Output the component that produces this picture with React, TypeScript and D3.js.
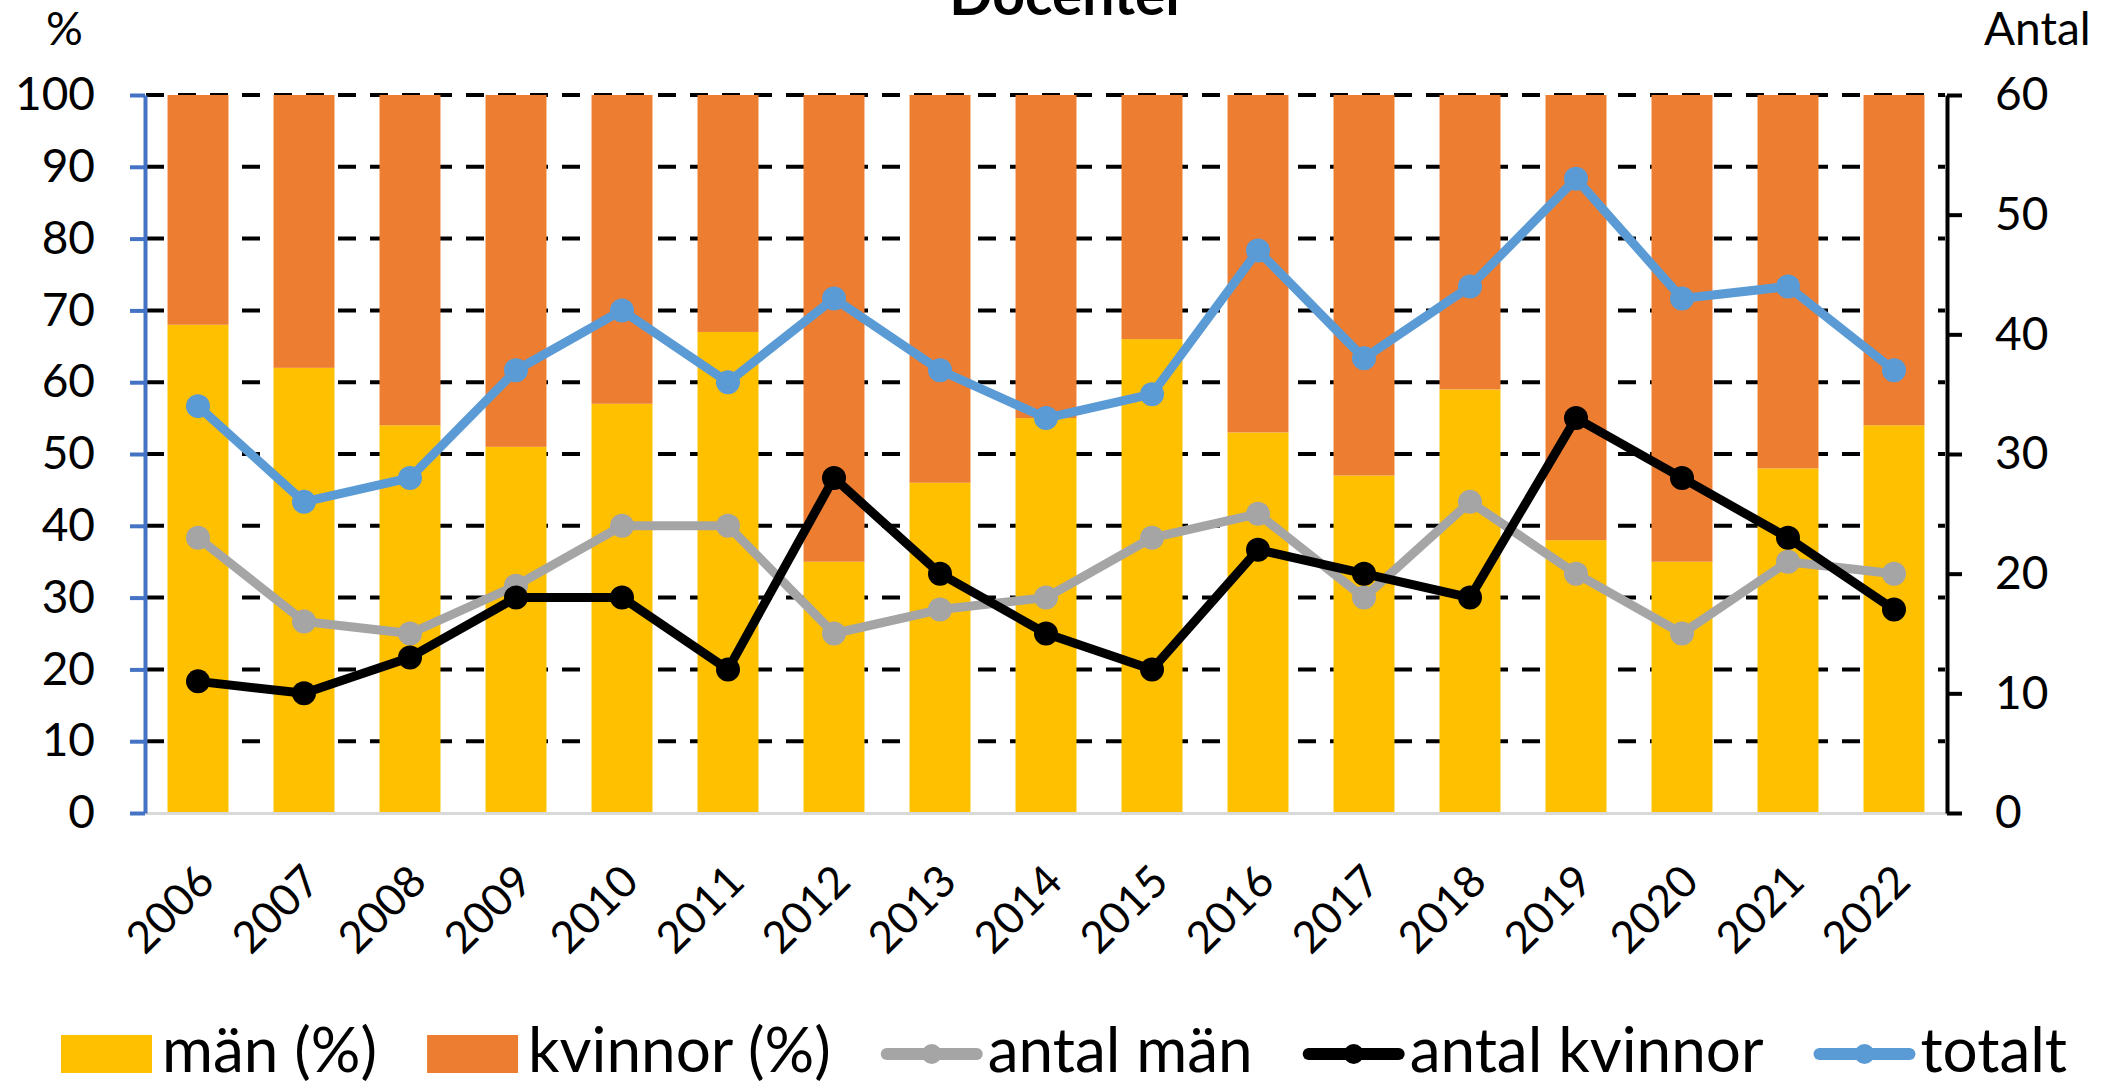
import React, { useEffect, useRef } from 'react';
import * as d3 from 'd3';

const years = ['2006', '2007', '2008', '2009', '2010', '2011', '2012', '2013', '2014', '2015', '2016', '2017', '2018', '2019', '2020', '2021', '2022'];
const manPct = [68, 62, 54, 51, 57, 67, 35, 46, 55, 66, 53, 47, 59, 38, 35, 48, 54];
const kvinnorPct = [32, 38, 46, 49, 43, 33, 65, 54, 45, 34, 47, 53, 41, 62, 65, 52, 46];
const antalMan = [23, 16, 15, 19, 24, 24, 15, 17, 18, 23, 25, 18, 26, 20, 15, 21, 20];
const antalKvinnor = [11, 10, 13, 18, 18, 12, 28, 20, 15, 12, 22, 20, 18, 33, 28, 23, 17];
const totalt = [34, 26, 28, 37, 42, 36, 43, 37, 33, 35, 47, 38, 44, 53, 43, 44, 37];
const leftTicks = [0, 10, 20, 30, 40, 50, 60, 70, 80, 90, 100];
const rightTicks = [0, 10, 20, 30, 40, 50, 60];

const FONT = "Lato, 'Noto Sans', sans-serif";

const App = () => {
  const svgRef = useRef<SVGSVGElement>(null);

  useEffect(() => {
    const width = 2113;
    const height = 1087;
    const left = 145;
    const right = 1947;
    const top = 95;
    const bottom = 813;

    const svg = d3.select(svgRef.current)
      .attr('width', width)
      .attr('height', height)
      .style('font-family', FONT);
    svg.selectAll('*').remove();

    const x = d3.scaleBand<string>()
      .domain(years)
      .range([left, right])
      .paddingInner(0.425)
      .paddingOuter(0.2125);
    const yL = d3.scaleLinear().domain([0, 100]).range([bottom, top]);
    const yR = d3.scaleLinear().domain([0, 60]).range([bottom, top]);
    const cx = (i: number) => (x(years[i]) as number) + x.bandwidth() / 2;

    // gridlines (behind bars)
    svg.append('g')
      .selectAll('line')
      .data(leftTicks.filter(d => d > 0))
      .enter()
      .append('line')
      .attr('x1', left + 1)
      .attr('x2', right - 2)
      .attr('y1', d => yL(d))
      .attr('y2', d => yL(d))
      .attr('stroke', '#000')
      .attr('stroke-width', 4)
      .attr('stroke-dasharray', '18 14');

    // stacked bars
    svg.append('g')
      .selectAll('rect')
      .data(years)
      .enter()
      .append('rect')
      .attr('x', d => x(d) as number)
      .attr('width', x.bandwidth())
      .attr('y', (d, i) => yL(manPct[i]))
      .attr('height', (d, i) => yL(0) - yL(manPct[i]))
      .attr('fill', '#FFC000');
    svg.append('g')
      .selectAll('rect')
      .data(years)
      .enter()
      .append('rect')
      .attr('x', d => x(d) as number)
      .attr('width', x.bandwidth())
      .attr('y', (d, i) => yL(manPct[i] + kvinnorPct[i]))
      .attr('height', (d, i) => yL(manPct[i]) - yL(manPct[i] + kvinnorPct[i]))
      .attr('fill', '#ED7D31');

    // x axis
    const xAxis = svg.append('g')
      .attr('transform', `translate(0,${bottom})`)
      .call(d3.axisBottom(x).tickSize(0).tickSizeOuter(0));
    xAxis.select('.domain')
      .attr('stroke', '#D9D9D9')
      .attr('stroke-width', 3);
    xAxis.selectAll('text')
      .attr('font-family', FONT)
      .attr('font-size', 44)
      .attr('fill', '#000')
      .attr('text-anchor', 'end')
      .attr('y', 0)
      .attr('dy', '0.35em')
      .attr('transform', 'translate(8,60) rotate(-45)');

    // left axis
    const yAxisL = svg.append('g')
      .attr('transform', `translate(${left},0)`)
      .call(d3.axisLeft(yL).tickValues(leftTicks).tickSize(15).tickSizeOuter(0).tickPadding(35));
    yAxisL.select('.domain').attr('stroke', '#4472C4').attr('stroke-width', 4);
    yAxisL.selectAll('.tick line').attr('stroke', '#4472C4').attr('stroke-width', 4);
    yAxisL.selectAll('text')
      .attr('font-family', FONT)
      .attr('font-size', 46)
      .attr('fill', '#000');

    // right axis
    const yAxisR = svg.append('g')
      .attr('transform', `translate(${right},0)`)
      .call(d3.axisRight(yR).tickValues(rightTicks).tickSize(15).tickSizeOuter(0).tickPadding(33));
    yAxisR.select('.domain').attr('stroke', '#000').attr('stroke-width', 4);
    yAxisR.selectAll('.tick line').attr('stroke', '#000').attr('stroke-width', 4);
    yAxisR.selectAll('text')
      .attr('font-family', FONT)
      .attr('font-size', 46)
      .attr('fill', '#000');

    // lines
    const series = [
      { name: 'antal män', values: antalMan, color: '#A5A5A5' },
      { name: 'antal kvinnor', values: antalKvinnor, color: '#000000' },
      { name: 'totalt', values: totalt, color: '#5B9BD5' },
    ];
    const line = d3.line<number>()
      .x((d, i) => cx(i))
      .y(d => yR(d));

    series.forEach(s => {
      const g = svg.append('g');
      g.append('path')
        .datum(s.values)
        .attr('fill', 'none')
        .attr('stroke', s.color)
        .attr('stroke-width', 9)
        .attr('stroke-linejoin', 'round')
        .attr('d', line);
      g.selectAll('circle')
        .data(s.values)
        .enter()
        .append('circle')
        .attr('cx', (d, i) => cx(i))
        .attr('cy', d => yR(d))
        .attr('r', 12)
        .attr('fill', s.color);
    });

    // titles
    svg.append('text')
      .attr('x', 1068)
      .attr('y', 15)
      .attr('text-anchor', 'middle')
      .attr('font-size', 57)
      .attr('font-weight', 'bold')
      .text('Docenter');
    svg.append('text')
      .attr('x', 46)
      .attr('y', 45)
      .attr('font-size', 46)
      .text('%');
    svg.append('text')
      .attr('x', 1984)
      .attr('y', 45)
      .attr('font-size', 46)
      .text('Antal');

    // legend
    const legendItems = [
      { label: 'män (%)', color: '#FFC000', type: 'rect' },
      { label: 'kvinnor (%)', color: '#ED7D31', type: 'rect' },
      { label: 'antal män', color: '#A5A5A5', type: 'line' },
      { label: 'antal kvinnor', color: '#000000', type: 'line' },
      { label: 'totalt', color: '#5B9BD5', type: 'line' },
    ];
    const legend = svg.append('g');
    const ly = 1054;
    let lx = 61;
    legendItems.forEach(item => {
      if (item.type === 'rect') {
        legend.append('rect')
          .attr('x', lx)
          .attr('y', ly - 19)
          .attr('width', 91)
          .attr('height', 38)
          .attr('fill', item.color);
        lx += 101;
      } else {
        legend.append('line')
          .attr('x1', lx + 6)
          .attr('x2', lx + 96)
          .attr('y1', ly)
          .attr('y2', ly)
          .attr('stroke', item.color)
          .attr('stroke-width', 12)
          .attr('stroke-linecap', 'round');
        legend.append('circle')
          .attr('cx', lx + 51)
          .attr('cy', ly)
          .attr('r', 10)
          .attr('fill', item.color);
        lx += 107;
      }
      const t = legend.append('text')
        .attr('x', lx)
        .attr('y', 1072)
        .attr('font-size', 62)
        .text(item.label);
      const w = (t.node() as SVGTextElement).getComputedTextLength();
      lx += w + 50;
    });
  }, []);

  return (
    <div style={{ position: 'absolute', left: 0, top: 0 }}>
      <svg ref={svgRef}></svg>
    </div>
  );
};

export default App;
